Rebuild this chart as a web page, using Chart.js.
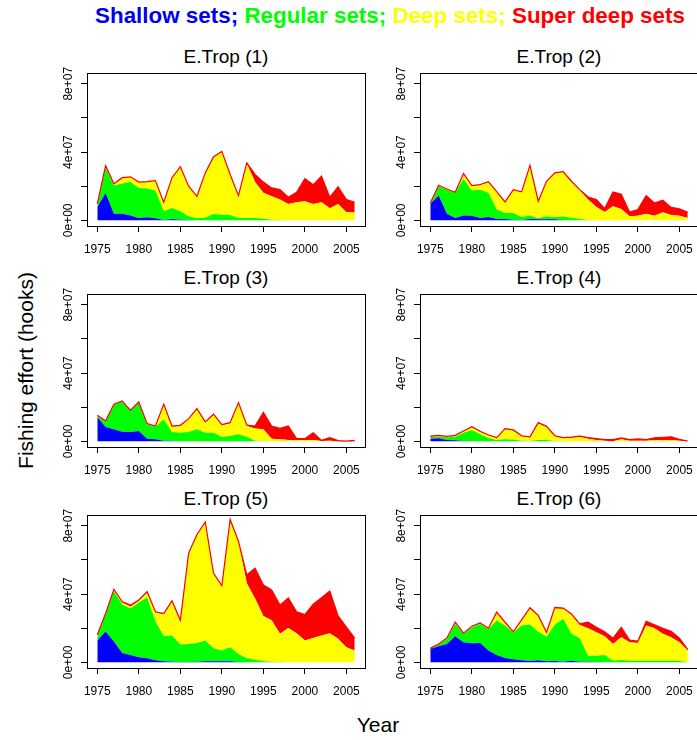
<!DOCTYPE html>
<html>
<head>
<meta charset="utf-8">
<script src="https://cdn.jsdelivr.net/npm/chart.js@4/dist/chart.umd.min.js"></script>
<style>
  html, body { margin: 0; padding: 0; background: #fff; }
  body { width: 697px; height: 740px; position: relative; overflow: hidden;
         font-family: "Liberation Sans", Arial, sans-serif; color: #000; }
  .txt { position: absolute; white-space: nowrap; line-height: 1; }
  #mainTitle { font-weight: bold; font-size: 22.4px; top: 4.5px; left: 0; width: 780px; text-align: center; }
  .ptitle { font-size: 19px; width: 200px; text-align: center; }
  #ylab { font-size: 21px; width: 240px; text-align: center; left: -95px; top: 359.5px; transform: rotate(-90deg); }
  #xlab { font-size: 21px; width: 100px; text-align: center; left: 328px; top: 714px; }
  canvas { position: absolute; }
</style>
</head>
<body>
<div id="mainTitle" class="txt"><span style="color:#0000ee">Shallow sets;</span> <span style="color:#00ff00">Regular sets;</span> <span style="color:#ffff00">Deep sets;</span> <span style="color:#ff0000">Super deep sets</span></div>
<div id="ylab" class="txt">Fishing effort (hooks)</div>
<div id="xlab" class="txt">Year</div>

<script>
// fishing effort, millions of hooks, 1975-2006
const years = [1975, 1976, 1977, 1978, 1979, 1980, 1981, 1982, 1983, 1984, 1985, 1986, 1987, 1988, 1989, 1990,
               1991, 1992, 1993, 1994, 1995, 1996, 1997, 1998, 1999, 2000, 2001, 2002, 2003, 2004, 2005, 2006];

const seriesNames = ['Shallow sets', 'Regular sets', 'Deep sets', 'Super deep sets'];
const panelTitles = ['E.Trop (1)', 'E.Trop (2)', 'E.Trop (3)', 'E.Trop (4)', 'E.Trop (5)', 'E.Trop (6)'];
const xTicks = [1975, 1980, 1985, 1990, 1995, 2000, 2005];
const yTicks = [0, 20, 40, 60, 80];

// E.Trop (1)
const shallow1 = [7.8, 16, 3.9, 3.9, 2.9, 1.4, 1.8, 1.2, 0.2, 0.8, 0.4, 0.2, 0, 0, 0, 0, 0, 0, 0, 0, 0, 0, 0, 0, 0, 0, 0, 0, 0, 0, 0, 0];
const regular1 = [0.6, 15, 16.5, 17.7, 19.5, 17.6, 16.8, 16.3, 5.1, 6.5, 4.9, 2.2, 1.2, 1.6, 3.7, 3.3, 3.1, 1.4, 1.4, 1.4, 1.0, 0.4, 0.2, 0, 0, 0, 0, 0, 0, 0, 0, 0];
const deep1 = [0.2, 0.5, 1.0, 3.4, 3.1, 3.4, 4.1, 5.8, 5.3, 17.7, 26.1, 17.6, 12.9, 26.2, 33.6, 37.1, 23.8, 13.0, 31.9, 21.0, 15.1, 13.7, 12.0, 9.6, 10.6, 11.2, 9.6, 10.6, 7.1, 9.6, 4.7, 4.7];
const superDeep1 = [1.0, 0.5, 0, 0, 0, 0, 0, 0, 0, 0, 0, 0, 0, 0, 0, 0, 0, 0.1, 0.4, 4.5, 6.3, 4.9, 5.8, 3.9, 5.9, 13.3, 11.2, 15.3, 6.4, 10.0, 7.5, 5.9];

// E.Trop (2)
const shallow2 = [9.8, 14.5, 3.9, 1.4, 2.9, 2.7, 1.4, 2.0, 0.8, 0.8, 0.4, 0.2, 0.8, 0.6, 0.6, 0.6, 0, 0, 0, 0, 0, 0, 0, 0, 0, 0, 0, 0, 0, 0, 0, 0];
const regular2 = [0, 5.5, 14.1, 14.7, 21.4, 14.8, 16.6, 14.1, 5.5, 3.5, 3.9, 1.8, 2.1, 0.6, 1.8, 1.2, 2.2, 1.6, 0.8, 0.2, 0, 0, 0, 0, 0, 0, 0, 0, 0, 0, 0, 0];
const deep2 = [0.4, 0.4, 0.4, 0.4, 2.6, 2.5, 2.6, 6.3, 10.2, 6.3, 13.3, 14.5, 28.9, 9.6, 20.3, 25.7, 26.0, 20.9, 16.7, 12.0, 7.8, 4.9, 8.2, 6.7, 2.4, 2.7, 3.9, 2.7, 4.7, 3.1, 2.7, 1.4];
const superDeep2 = [0, 0.2, 0, 0, 0.6, 0.4, 0.4, 0.3, 0.4, 0.2, 0.4, 0.2, 0.4, 0.4, 0.2, 0.3, 0.4, 0.4, 0.5, 1.5, 4.4, 2.0, 8.5, 8.6, 2.5, 3.6, 10.6, 7.5, 7.1, 4.5, 4.0, 3.3];

// E.Trop (3)
const shallow3 = [14.3, 8.4, 7.1, 5.7, 5.5, 6.1, 1.6, 1.2, 0.4, 0.2, 0, 0, 0, 0, 0, 0, 0, 0, 0, 0, 0, 0, 0, 0, 0, 0, 0, 0, 0, 0, 0, 0];
const regular3 = [0.6, 3.2, 14.3, 17.6, 12.3, 16.6, 8.4, 7.4, 12.5, 5.3, 5.1, 5.5, 7.1, 5.1, 5.1, 2.5, 3.1, 4.1, 2.7, 0.4, 0.2, 0, 0, 0, 0, 0, 0, 0, 0, 0, 0, 0];
const deep3 = [0, 0.2, 0.2, 0.2, 0.2, 0.2, 0.2, 0.2, 8.3, 3.1, 3.9, 7.4, 11.7, 5.9, 10.4, 6.9, 7.3, 18.3, 6.3, 7.1, 6.9, 1.6, 1.2, 0.8, 0.6, 0.8, 0.8, 0.2, 0.4, 0, 0, 0];
const superDeep3 = [0.4, 0.2, 0.2, 0.2, 0.2, 0.2, 0.2, 0.2, 0.6, 0.4, 0.4, 0.4, 0.4, 0.4, 0.4, 0.4, 0.6, 0.3, 0.6, 1.5, 9.8, 7.4, 6.4, 8.2, 1.0, 0.8, 4.3, 0.4, 1.8, 0.4, 0.1, 0.6];

// E.Trop (4)
const shallow4 = [1.6, 1.8, 0.8, 0.6, 0.2, 0, 0, 0, 0, 0, 0, 0, 0, 0, 0, 0, 0, 0, 0, 0, 0, 0, 0, 0, 0, 0, 0, 0, 0, 0, 0, 0];
const regular4 = [0.9, 0.9, 1.6, 2.1, 4.9, 6.7, 4.1, 2.0, 0.8, 1.2, 1.0, 0.4, 0.2, 0.8, 0.8, 0.2, 0.2, 0.1, 0.1, 0.1, 0, 0, 0, 0, 0, 0, 0, 0, 0.4, 0, 0, 0];
const deep4 = [0.2, 0.4, 0.3, 0.6, 0.8, 1.5, 1.4, 1.5, 1.2, 5.9, 5.3, 2.5, 2.3, 9.8, 7.6, 2.8, 1.6, 2.0, 2.6, 1.5, 0.8, 0.4, 0, 1.2, 0.4, 0.4, 0.4, 0.8, 0.4, 0.8, 0.4, 0];
const superDeep4 = [0.4, 0.4, 0.2, 0.2, 0.2, 0.4, 0.4, 0.2, 0.2, 0.4, 0.4, 0.4, 0.2, 0.4, 0.4, 0.3, 0.4, 0.4, 0.4, 0.6, 0.8, 0.6, 1.0, 0.8, 0.6, 1.0, 0.6, 1.2, 1.6, 1.9, 0.8, 0.2];

// E.Trop (5)
const shallow5 = [12.8, 18.1, 12.2, 5.5, 4.3, 3.0, 2.4, 1.2, 0.6, 0.4, 0.2, 0.2, 0.4, 0.6, 0.6, 0.6, 0.6, 0.2, 0, 0, 0, 0, 0, 0, 0, 0, 0, 0, 0, 0, 0, 0];
const regular5 = [2.6, 10.1, 29.6, 28.4, 27.2, 32.1, 35.6, 22.8, 14.8, 15.4, 10.2, 10.6, 11.0, 12.2, 7.7, 6.3, 8.3, 4.7, 2.4, 1.6, 0.6, 0.4, 0.2, 0, 0, 0, 0, 0, 0, 0, 0, 0];
const deep5 = [0.4, 0, 0.6, 1.2, 1.0, 0.8, 2.8, 5.2, 12.8, 19.7, 13.8, 52.8, 63.1, 69.0, 43.5, 37.6, 74.4, 65.6, 43.9, 35.8, 26.6, 24.2, 16.5, 20.1, 17.1, 12.8, 14.2, 15.8, 17.1, 13.8, 8.9, 6.9];
const superDeep5 = [0.4, 0.4, 0.4, 0.4, 1.0, 0.6, 0.6, 0.4, 0.4, 0.6, 0.4, 0.4, 0.4, 0.4, 0.4, 0.4, 0.4, 0.4, 4.9, 17.8, 18.1, 17.8, 16.8, 17.7, 12.5, 15.2, 19.9, 22.0, 24.7, 13.4, 11.8, 7.3];

// E.Trop (6)
const shallow6 = [7.8, 9.4, 10.8, 15.3, 11.8, 11.2, 11.4, 6.9, 4.3, 2.5, 1.8, 1.2, 0.8, 1.2, 0.6, 0.8, 0.4, 1.0, 0.4, 0.4, 0.2, 0.1, 0, 0, 0, 0, 0, 0, 0, 0, 0, 0];
const regular6 = [0, 1.0, 2.9, 7.2, 4.9, 9.4, 11.1, 12.7, 20.2, 19.1, 15.9, 20.4, 21.4, 16.8, 14.5, 21.2, 25.1, 15.7, 13.7, 3.5, 3.7, 4.2, 1.0, 1.4, 1.0, 1.0, 1.0, 1.0, 1.0, 1.0, 0.8, 0];
const deep6 = [0.1, 0.2, 0.3, 0.6, 0.2, 0.3, 0.3, 0.2, 4.5, 1.5, 0, 2.9, 9.2, 9.1, 2.1, 9.6, 5.9, 11.1, 7.8, 16.1, 13.7, 11.0, 9.8, 13.3, 10.8, 10.4, 20.6, 19.0, 15.7, 13.7, 11.0, 6.9];
const superDeep6 = [0.3, 0.2, 0.3, 0.4, 0.2, 0.3, 0.3, 0.2, 0.4, 0.4, 0.3, 0.4, 0.6, 0.4, 0.4, 0.6, 0.4, 0.6, 0.6, 3.5, 3.0, 2.7, 3.3, 5.9, 1.3, 1.0, 2.5, 2.0, 3.3, 3.5, 2.3, 0.6];

const panelData = [
  [shallow1, regular1, deep1, superDeep1],
  [shallow2, regular2, deep2, superDeep2],
  [shallow3, regular3, deep3, superDeep3],
  [shallow4, regular4, deep4, superDeep4],
  [shallow5, regular5, deep5, superDeep5],
  [shallow6, regular6, deep6, superDeep6]
];

const fillColors = ['#0000ff', '#00ff00', '#ffff00', '#ff0000'];

// layout of the 3x2 grid (plot box positions on the page)
const colLeft = [87, 420];
const rowTop = [73, 294, 515];
const boxW = 278, boxH = 153;
const axisW = 45, axisH = 34, padTop = 20, padRight = 6;

Chart.defaults.font.family = '"Liberation Sans", Arial, sans-serif';
Chart.defaults.color = '#000';

// R style: exponent with two digits
function sci(v) {
  return (v * 1e6).toExponential(0).replace(/e([+-])(\d)$/, 'e$10$2');
}

const framePlugin = {
  id: 'frame',
  afterDraw(chart) {
    const a = chart.chartArea;
    const ctx = chart.ctx;
    ctx.save();
    ctx.strokeStyle = '#000';
    ctx.lineWidth = 1;
    ctx.strokeRect(a.left + 0.5, a.top + 0.5, a.right - a.left, a.bottom - a.top);
    ctx.restore();
  }
};

panelData.forEach((series, i) => {
  const col = i % 2, row = Math.floor(i / 2);
  const left = colLeft[col] - axisW, top = rowTop[row] - padTop;

  const t = document.createElement('div');
  t.className = 'txt ptitle';
  t.textContent = panelTitles[i];
  t.style.left = (colLeft[col] + boxW / 2 - 100) + 'px';
  t.style.top = (rowTop[row] - 26.4) + 'px';
  document.body.appendChild(t);

  const cv = document.createElement('canvas');
  cv.width = axisW + boxW + padRight;
  cv.height = padTop + boxH + axisH;
  cv.style.left = left + 'px';
  cv.style.top = top + 'px';
  document.body.appendChild(cv);

  new Chart(cv, {
    type: 'line',
    data: {
      labels: years,
      datasets: series.map((vals, k) => ({
        label: seriesNames[k],
        data: vals.map((v, j) => ({x: years[j], y: v})),
        backgroundColor: fillColors[k],
        borderColor: fillColors[k],
        borderWidth: k === 3 ? 1.2 : 0,
        fill: k === 0 ? 'origin' : '-1',
        pointRadius: 0,
        tension: 0
      }))
    },
    options: {
      responsive: false,
      animation: false,
      events: [],
      layout: { padding: { top: padTop, right: padRight, left: 0, bottom: 0 } },
      plugins: {
        legend: { display: false },
        tooltip: { enabled: false },
        filler: { drawTime: 'beforeDatasetsDraw' }
      },
      scales: {
        x: {
          type: 'linear',
          min: 1973.76,
          max: 2007.24,
          afterFit: s => { s.height = axisH; },
          afterBuildTicks: s => { s.ticks = xTicks.map(v => ({value: v})); },
          border: { display: false },
          grid: { drawOnChartArea: false, drawTicks: true, tickLength: 6, color: '#000' },
          ticks: {
            autoSkip: false, maxRotation: 0, padding: 10,
            font: { size: 12 },
            callback: v => String(v)
          }
        },
        y: {
          stacked: true,
          min: -3.3,
          max: 86.3,
          afterFit: s => { s.width = axisW; },
          afterBuildTicks: s => { s.ticks = yTicks.map(v => ({value: v})); },
          border: { display: false },
          grid: { drawOnChartArea: false, drawTicks: true, tickLength: 6, color: '#000' },
          ticks: {
            autoSkip: false, minRotation: 90, maxRotation: 90,
            crossAlign: 'center', padding: -5,
            font: { size: 12 },
            callback: v => (v % 40 === 0 ? sci(v) : '')
          }
        }
      }
    },
    plugins: [framePlugin]
  });
});
</script>
</body>
</html>
